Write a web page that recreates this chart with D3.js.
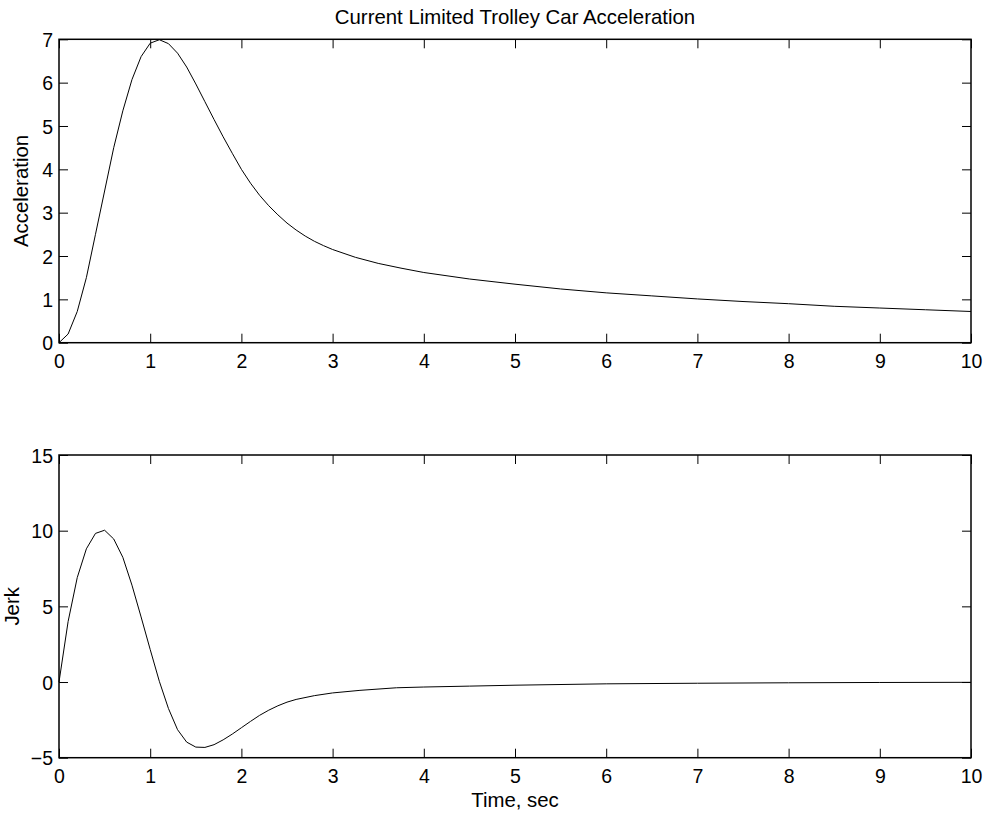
<!DOCTYPE html>
<html><head><meta charset="utf-8">
<script src="https://cdn.jsdelivr.net/npm/d3@7"></script>
<style>body{margin:0;background:#fff}svg{display:block}text{font-family:"Liberation Sans",Arial,sans-serif;fill:#000}</style>
</head><body><svg id="c" width="990" height="815"></svg>
<script>
const title = "Current Limited Trolley Car Acceleration";
const xLabel = "Time, sec";
const accLabel = "Acceleration";
const jerkLabel = "Jerk";
const xTicks = [0,1,2,3,4,5,6,7,8,9,10];
const accTicks = [0,1,2,3,4,5,6,7];
const jerkTicks = [-5,0,5,10,15];
const accTime = [0,0.1,0.2,0.3,0.4,0.5,0.6,0.7,0.8,0.9,1.0,1.1,1.2,1.3,1.4,1.5,1.6,1.7,1.8,1.9,2.0,2.1,2.2,2.3,2.4,2.5,2.6,2.7,2.8,2.9,3.0,3.25,3.5,3.75,4.0,4.5,5.0,5.5,6.0,6.5,7.0,7.5,8.0,8.5,9.0,9.5,10];
const accValues = [0,0.2,0.72,1.5,2.5,3.5,4.5,5.35,6.07,6.6,6.91,6.99,6.9,6.68,6.36,5.97,5.56,5.15,4.75,4.37,4.0,3.68,3.4,3.16,2.95,2.76,2.6,2.46,2.34,2.24,2.15,1.97,1.83,1.72,1.62,1.47,1.35,1.24,1.15,1.08,1.01,0.95,0.9,0.84,0.8,0.76,0.72];
const jerkTime = [0,0.1,0.2,0.3,0.4,0.5,0.6,0.7,0.8,0.9,1.0,1.1,1.2,1.3,1.4,1.5,1.6,1.7,1.8,1.9,2.0,2.1,2.2,2.3,2.4,2.5,2.6,2.8,3.0,3.3,3.7,4.0,4.5,5.0,6.0,7.0,8.0,9.0,10];
const jerkValues = [0,4.0,6.9,8.8,9.82,10.03,9.45,8.24,6.4,4.3,2.15,0.05,-1.75,-3.15,-3.97,-4.3,-4.32,-4.14,-3.82,-3.44,-3.02,-2.6,-2.2,-1.86,-1.57,-1.33,-1.15,-0.9,-0.72,-0.55,-0.38,-0.33,-0.27,-0.21,-0.12,-0.08,-0.05,-0.03,-0.02];

const svg = d3.select("#c");
const L = 59, R = 971;
const fs = 19.5, lfs = 20.4;

function panel(top, bottom, yDomain, yTicks, times, vals, ylab, ylabX) {
  const x = d3.scaleLinear().domain([0,10]).range([L,R]);
  const y = d3.scaleLinear().domain(yDomain).range([bottom,top]);
  const g = svg.append("g");
  const tk = 9;
  const fmt = d3.format("");
  const ab = g.append("g").attr("transform",`translate(0,${bottom})`)
    .call(d3.axisBottom(x).tickValues(xTicks).tickSizeInner(-tk).tickSizeOuter(0).tickPadding(11).tickFormat(fmt));
  g.append("g").attr("transform",`translate(0,${top})`)
    .call(d3.axisTop(x).tickValues(xTicks).tickSizeInner(-tk).tickSizeOuter(0).tickFormat(""));
  const al = g.append("g").attr("transform",`translate(${L},0)`)
    .call(d3.axisLeft(y).tickValues(yTicks).tickSizeInner(-tk).tickSizeOuter(0).tickPadding(6).tickFormat(fmt));
  g.append("g").attr("transform",`translate(${R},0)`)
    .call(d3.axisRight(y).tickValues(yTicks).tickSizeInner(-tk).tickSizeOuter(0).tickFormat(""));
  g.selectAll(".domain").remove();
  g.selectAll(".tick line").attr("stroke","#000").attr("stroke-width",1);
  g.selectAll(".tick text").style("font-size",fs+"px").attr("fill","#000");
  ab.selectAll(".tick text").attr("dy","0.71em");
  al.selectAll(".tick text").attr("dy","0.36em");
  g.append("rect").attr("x",L).attr("y",top).attr("width",R-L).attr("height",bottom-top)
    .attr("fill","none").attr("stroke","#000").attr("stroke-width",1.5);
  const line = d3.line().x((d,i)=>x(times[i])).y(d=>y(d));
  g.append("path").datum(vals).attr("d",line).attr("fill","none").attr("stroke","#000").attr("stroke-width",1);
  g.append("text").attr("transform",`translate(${ylabX},${(top+bottom)/2}) rotate(-90)`)
    .attr("text-anchor","middle").style("font-size",lfs+"px").text(ylab);
  return x;
}

panel(39.3, 342.7, [0,7], accTicks, accTime, accValues, accLabel, 28);
panel(455, 757.7, [-5,15], jerkTicks, jerkTime, jerkValues, jerkLabel, 19);

svg.append("text").attr("x",(L+R)/2).attr("y",23.5).attr("text-anchor","middle")
  .style("font-size",lfs+"px").text(title);
svg.append("text").attr("x",(L+R)/2).attr("y",807).attr("text-anchor","middle")
  .style("font-size",lfs+"px").text(xLabel);
</script></body></html>
